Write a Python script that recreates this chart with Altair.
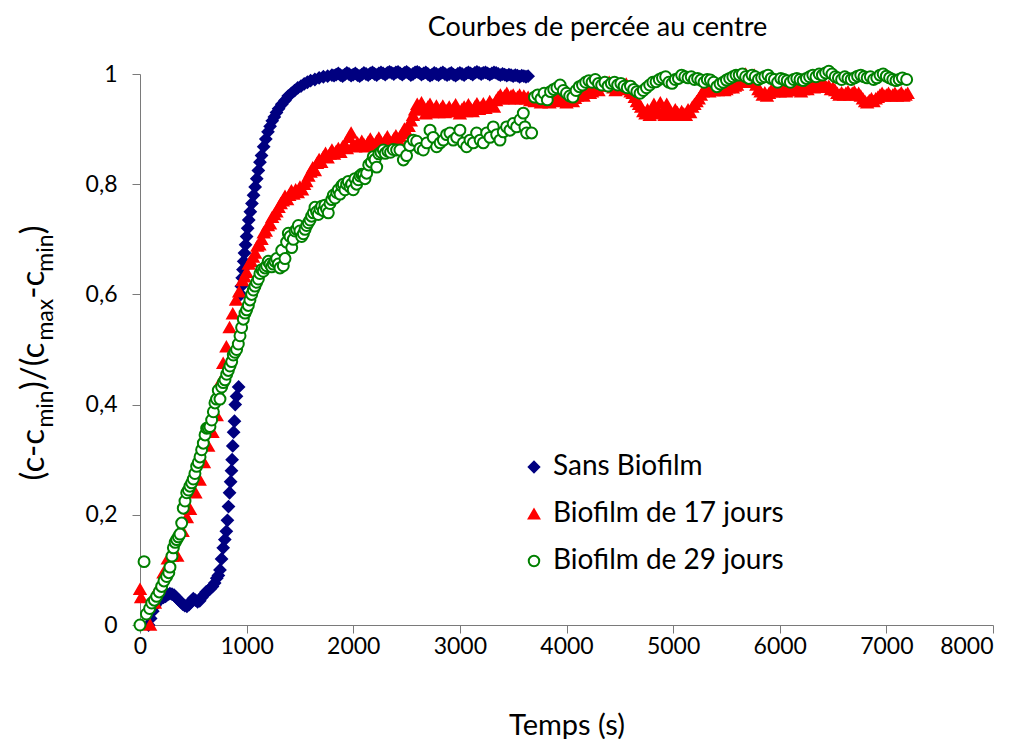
import altair as alt
import pandas as pd

series_names = ["Sans Biofilm", "Biofilm de 17 jours", "Biofilm de 29 jours"]
stroke_colors = ["#000080", "#FF0000", "#008000"]
fill_colors = ["#000080", "#FF0000", "#FFFFFF"]
shapes = ["diamond", "triangle-up", "circle"]
x_ticks = [0, 1000, 2000, 3000, 4000, 5000, 6000, 7000, 8000]
y_ticks = [0, 0.2, 0.4, 0.6, 0.8, 1.0]
chart_title = "Courbes de percée au centre"
x_title = "Temps (s)"
# y title "(c-c_min)/(c_max-c_min)" : pieces, 1 = subscript
y_title_parts = ["(c-c", "min", ")/(c", "max", "-c", "min", ")"]
y_title_sub = [0, 1, 0, 1, 0, 1, 0]

# ---- data: (temps [s], (c-cmin)/(cmax-cmin)) ----
sans_biofilm = [
    (80, 0.0), (100, 0.012), (120, 0.025), (140, 0.035), (160, 0.042), (180, 0.046), (200, 0.048),
    (220, 0.05), (240, 0.052), (260, 0.055), (280, 0.057), (300, 0.056), (320, 0.054), (340, 0.05),
    (360, 0.046), (380, 0.042), (400, 0.038), (420, 0.035), (440, 0.034), (460, 0.037), (480, 0.043),
    (500, 0.048), (520, 0.045), (540, 0.042), (560, 0.044), (580, 0.05), (600, 0.055), (620, 0.06),
    (640, 0.063), (660, 0.066), (680, 0.07), (700, 0.076), (720, 0.085), (735, 0.09), (750, 0.1),
    (765, 0.12), (780, 0.14), (795, 0.155), (810, 0.17), (820, 0.19), (830, 0.215), (840, 0.24),
    (850, 0.26), (858, 0.28), (864, 0.3), (870, 0.325), (878, 0.35), (886, 0.37), (893, 0.4),
    (905, 0.415), (925, 0.432),
    (945, 0.6), (950, 0.615), (958, 0.63), (965, 0.645), (972, 0.66), (980, 0.675), (990, 0.69),
    (1000, 0.705), (1010, 0.72), (1020, 0.735), (1035, 0.75), (1050, 0.765), (1065, 0.78),
    (1080, 0.795), (1095, 0.81), (1110, 0.825), (1125, 0.84), (1140, 0.852), (1160, 0.868),
    (1180, 0.882), (1200, 0.895), (1220, 0.905), (1240, 0.915), (1260, 0.922), (1280, 0.93),
    (1300, 0.937), (1330, 0.945), (1360, 0.952), (1390, 0.96), (1420, 0.965), (1450, 0.97),
    (1480, 0.975), (1510, 0.978), (1540, 0.982), (1570, 0.985), (1600, 0.988), (1640, 0.99),
    (1680, 0.993), (1720, 0.995), (1760, 0.996), (1800, 0.998),
]
# plateau of the blue series, one value every 20 s from 1820 s
sans_biofilm_plateau_start = 1820
sans_biofilm_plateau = [
    0.997, 0.999, 1.001, 0.998, 0.996, 0.999, 1.002, 1.0, 0.997, 0.999,      # 1820
    1.001, 0.998, 0.996, 0.999, 1.002, 1.0, 0.998, 1.001, 1.003, 1.0,        # 2020
    0.998, 1.001, 1.003, 1.001, 0.999, 1.002, 1.004, 1.002, 1.0, 1.003,      # 2220
    1.004, 1.001, 0.999, 1.002, 1.004, 1.001, 0.998, 1.0, 1.003, 1.004,      # 2420
    1.002, 0.999, 1.001, 1.003, 1.0, 0.997, 0.999, 1.002, 1.0, 0.998,        # 2620
    1.001, 1.003, 1.0, 0.998, 1.0, 1.002, 0.999, 0.997, 1.0, 1.002,          # 2820
    1.0, 0.998, 1.001, 1.003, 1.001, 0.999, 1.002, 1.004, 1.002, 1.0,        # 3020
    1.002, 1.003, 1.001, 0.999, 1.001, 1.003, 1.002, 1.0, 0.998, 1.0,        # 3220
    0.999, 0.997, 0.999, 0.998, 0.996, 0.998, 0.997, 0.995, 0.997, 0.996,    # 3420
    0.995, 0.996,                                                            # 3620
]

biofilm_17 = [
    (0, 0.065), (10, 0.05), (95, 0.0), (140, 0.04), (180, 0.07), (220, 0.095), (260, 0.12),
    (300, 0.125), (350, 0.125), (400, 0.17), (440, 0.195), (470, 0.21), (520, 0.24), (560, 0.263),
    (600, 0.295), (640, 0.325), (680, 0.35), (720, 0.38), (750, 0.44), (780, 0.475), (810, 0.505),
    (840, 0.54), (870, 0.565), (900, 0.59), (930, 0.605), (960, 0.625), (980, 0.632),
]
# one value every 20 s from 1000 s
biofilm_17_dense_start = 1000
biofilm_17_dense = [
    0.64,                                                                    # 1000
    0.655, 0.66, 0.668, 0.675, 0.688, 0.69, 0.70, 0.712, 0.715, 0.725,       # 1020
    0.728, 0.74, 0.745, 0.75, 0.758, 0.765, 0.77, 0.778, 0.772, 0.78,        # 1220
    0.788, 0.782, 0.79, 0.785, 0.795, 0.79, 0.80, 0.805, 0.815, 0.822,       # 1420
    0.83, 0.825, 0.838, 0.845, 0.84, 0.85, 0.856, 0.848, 0.855, 0.862,       # 1620
    0.855, 0.86, 0.865, 0.858, 0.868, 0.872, 0.865, 0.885, 0.893, 0.872,     # 1820
    0.868, 0.875, 0.87, 0.878, 0.872, 0.868, 0.876, 0.882, 0.875, 0.87,      # 2020
    0.878, 0.884, 0.876, 0.872, 0.88, 0.886, 0.878, 0.874, 0.882, 0.888,     # 2220
    0.88, 0.886, 0.892, 0.9, 0.895, 0.905, 0.915, 0.925, 0.935, 0.945,       # 2420
    0.94, 0.948, 0.935, 0.928, 0.94, 0.945, 0.93, 0.935, 0.942, 0.93,        # 2620
    0.936, 0.942, 0.93, 0.934, 0.94, 0.932, 0.938, 0.944, 0.932, 0.928,      # 2820
    0.936, 0.94, 0.932, 0.944, 0.938, 0.932, 0.94, 0.946, 0.936, 0.94,       # 3020
    0.946, 0.938, 0.942, 0.95, 0.944, 0.94, 0.952, 0.958, 0.962, 0.955,      # 3220
    0.96, 0.965, 0.955, 0.96, 0.962, 0.955, 0.958, 0.962, 0.955, 0.96,       # 3420
    0.955, 0.958, 0.952, 0.956, 0.95, 0.955, 0.952, 0.948, 0.955, 0.95,      # 3620
    0.954, 0.948, 0.955, 0.958, 0.952, 0.956, 0.95, 0.955, 0.952, 0.948,     # 3820
    0.952, 0.955, 0.95, 0.956, 0.96, 0.962, 0.965, 0.96, 0.966, 0.97,        # 4020
    0.965, 0.968, 0.972, 0.975, 0.97, 0.978, 0.982, 0.985, 0.978, 0.985,     # 4220
    0.98, 0.975, 0.97, 0.975, 0.98, 0.972, 0.978, 0.982, 0.975, 0.968,       # 4420
    0.965, 0.958, 0.95, 0.945, 0.94, 0.932, 0.928, 0.935, 0.925, 0.93,       # 4620
    0.945, 0.935, 0.928, 0.948, 0.932, 0.925, 0.945, 0.935, 0.928, 0.925,    # 4820
    0.935, 0.93, 0.925, 0.932, 0.928, 0.925, 0.935, 0.93, 0.94, 0.945,       # 5020
    0.95, 0.955, 0.962, 0.968, 0.97, 0.972, 0.968, 0.972, 0.97, 0.975,       # 5220
    0.97, 0.972, 0.975, 0.97, 0.972, 0.975, 0.978, 0.975, 0.978, 0.98,       # 5420
    0.985, 0.99, 0.995, 1.0, 0.99, 0.985, 0.995, 0.998, 0.98, 0.972,         # 5620
    0.968, 0.962, 0.966, 0.96, 0.965, 0.97, 0.968, 0.972, 0.97, 0.968,       # 5820
    0.97, 0.972, 0.968, 0.972, 0.975, 0.972, 0.97, 0.974, 0.97, 0.968,       # 6020
    0.972, 0.975, 0.972, 0.976, 0.978, 0.975, 0.98, 0.978, 0.982, 0.978,     # 6220
    0.98, 0.976, 0.978, 0.972, 0.975, 0.97, 0.965, 0.962, 0.966, 0.962,      # 6420
    0.965, 0.968, 0.962, 0.965, 0.968, 0.962, 0.965, 0.96, 0.955, 0.95,      # 6620
    0.948, 0.952, 0.955, 0.95, 0.955, 0.958, 0.962, 0.965, 0.96, 0.962,      # 6820
    0.965, 0.96, 0.962, 0.965, 0.96, 0.962, 0.966, 0.96, 0.962, 0.965,       # 7020
]

biofilm_29 = [
    (0, 0.0), (38, 0.115), (60, 0.02), (90, 0.03), (110, 0.04), (135, 0.045), (156, 0.052),
    (180, 0.06), (203, 0.07), (225, 0.08), (250, 0.088), (270, 0.095), (281, 0.105), (300, 0.125),
    (313, 0.14), (330, 0.15), (344, 0.155), (360, 0.16), (375, 0.165), (391, 0.185), (406, 0.212),
    (422, 0.225), (438, 0.24), (454, 0.245), (469, 0.252), (485, 0.258), (500, 0.265), (515, 0.275),
    (531, 0.288), (547, 0.295), (563, 0.305), (578, 0.318), (594, 0.33), (610, 0.345), (625, 0.357),
    (640, 0.358), (656, 0.36), (672, 0.372), (688, 0.387), (703, 0.403), (718, 0.41), (734, 0.426),
    (750, 0.41), (766, 0.432), (781, 0.44), (797, 0.445), (813, 0.455), (828, 0.462), (844, 0.47),
    (860, 0.478), (875, 0.49), (890, 0.495), (906, 0.5), (922, 0.51), (938, 0.525), (953, 0.54),
    (969, 0.555), (985, 0.566), (1000, 0.572), (1016, 0.58), (1031, 0.59), (1047, 0.6),
    (1063, 0.608), (1078, 0.615), (1094, 0.622), (1110, 0.628), (1125, 0.638), (1141, 0.645),
    (1156, 0.642), (1172, 0.648), (1188, 0.652), (1203, 0.66), (1219, 0.655), (1235, 0.65),
    (1250, 0.655), (1266, 0.66), (1282, 0.665), (1297, 0.655), (1313, 0.648), (1329, 0.68),
    (1344, 0.652), (1360, 0.665), (1375, 0.695), (1391, 0.711), (1407, 0.705), (1423, 0.685),
    (1438, 0.7), (1454, 0.715), (1470, 0.718), (1485, 0.725), (1500, 0.715), (1516, 0.705),
    (1532, 0.71), (1548, 0.718), (1563, 0.725), (1579, 0.73), (1595, 0.735), (1610, 0.742),
    (1626, 0.748), (1641, 0.758), (1657, 0.75), (1672, 0.745), (1688, 0.755), (1704, 0.76),
    (1720, 0.752), (1735, 0.762), (1750, 0.755), (1766, 0.748), (1782, 0.765), (1798, 0.772),
    (1813, 0.78), (1829, 0.775), (1845, 0.785), (1860, 0.79), (1876, 0.782), (1891, 0.797),
    (1907, 0.8), (1922, 0.79), (1938, 0.8), (1954, 0.805), (1970, 0.795), (1985, 0.8), (2000, 0.79),
    (2016, 0.81), (2032, 0.8), (2048, 0.808), (2063, 0.815), (2079, 0.818), (2095, 0.817),
    (2110, 0.81), (2126, 0.82), (2145, 0.835), (2170, 0.84), (2188, 0.85), (2205, 0.845),
    (2220, 0.831), (2240, 0.855), (2260, 0.858), (2282, 0.862), (2300, 0.856), (2325, 0.86),
    (2350, 0.858), (2375, 0.863), (2407, 0.862), (2438, 0.862), (2470, 0.844), (2500, 0.852),
    (2530, 0.87), (2563, 0.88), (2595, 0.878), (2625, 0.865), (2657, 0.862), (2690, 0.875),
    (2720, 0.898), (2750, 0.885), (2782, 0.868), (2815, 0.875), (2845, 0.88), (2875, 0.89),
    (2907, 0.893), (2938, 0.88), (2970, 0.885), (3000, 0.898), (3032, 0.875), (3063, 0.868),
    (3095, 0.88), (3126, 0.875), (3157, 0.893), (3190, 0.88), (3220, 0.875), (3251, 0.893),
    (3282, 0.885), (3313, 0.904), (3345, 0.89), (3376, 0.88), (3407, 0.895), (3438, 0.904),
    (3470, 0.898), (3500, 0.91), (3532, 0.904), (3564, 0.917), (3595, 0.929), (3610, 0.904),
    (3626, 0.893), (3673, 0.893),
    (3700, 0.958), (3730, 0.962), (3760, 0.955), (3790, 0.965), (3820, 0.953), (3850, 0.968),
    (3880, 0.972), (3910, 0.975), (3940, 0.98), (3970, 0.97), (4000, 0.965), (4030, 0.96),
    (4060, 0.958), (4090, 0.97), (4120, 0.977), (4150, 0.98), (4180, 0.985), (4210, 0.988),
    (4240, 0.985), (4270, 0.99), (4300, 0.983), (4330, 0.98), (4360, 0.985), (4390, 0.978),
    (4420, 0.983), (4450, 0.985), (4480, 0.98), (4510, 0.983), (4540, 0.978), (4570, 0.975),
    (4600, 0.978), (4630, 0.972), (4660, 0.968), (4690, 0.965), (4720, 0.97), (4750, 0.975),
    (4780, 0.98), (4810, 0.985), (4840, 0.986), (4870, 0.99), (4900, 0.993), (4930, 0.995),
    (4960, 0.985), (4990, 0.983), (5020, 0.99), (5050, 0.992), (5080, 0.998), (5110, 0.995),
    (5140, 0.993), (5170, 0.995), (5200, 0.99), (5230, 0.992), (5260, 0.989), (5290, 0.985),
    (5320, 0.99), (5350, 0.989), (5380, 0.985), (5410, 0.977), (5440, 0.982), (5470, 0.985),
    (5500, 0.989), (5530, 0.992), (5560, 0.995), (5590, 0.998), (5620, 0.998), (5650, 1.0),
    (5680, 0.995), (5710, 0.992), (5740, 0.998), (5770, 0.995), (5800, 0.99), (5830, 0.993),
    (5860, 0.995), (5890, 0.998), (5920, 0.992), (5950, 0.99), (5980, 0.985), (6010, 0.992),
    (6040, 0.99), (6070, 0.988), (6100, 0.985), (6130, 0.99), (6160, 0.992), (6190, 0.99),
    (6220, 0.988), (6250, 0.992), (6280, 0.995), (6310, 0.998), (6340, 0.995), (6370, 1.0),
    (6400, 0.998), (6430, 1.002), (6460, 1.005), (6490, 1.0), (6520, 0.995), (6550, 0.993),
    (6580, 0.99), (6610, 0.995), (6640, 0.992), (6670, 0.99), (6700, 0.993), (6730, 0.996),
    (6760, 0.998), (6790, 0.995), (6820, 0.993), (6850, 0.995), (6880, 0.99), (6910, 0.993),
    (6940, 0.998), (6970, 1.0), (7000, 0.996), (7030, 0.993), (7060, 0.99), (7090, 0.988),
    (7120, 0.99), (7150, 0.993), (7190, 0.99),
]

# ---- assemble table ----
def with_grid(pairs, start, values, step=20):
    out = list(pairs)
    for i, v in enumerate(values):
        out.append((start + step * i, v))
    return out

all_series = [
    with_grid(sans_biofilm, sans_biofilm_plateau_start, sans_biofilm_plateau),
    with_grid(biofilm_17, biofilm_17_dense_start, biofilm_17_dense),
    biofilm_29,
]
rows = []
for name, pts in zip(series_names, all_series):
    for t, v in pts:
        rows.append({"serie": name, "temps": t, "c": v})
df = pd.DataFrame(rows)

FONT = "Lato"
legend = alt.Legend(title=None)

points = alt.Chart(df).mark_point(
    size=120, strokeWidth=2, opacity=1, fillOpacity=1, strokeOpacity=1
).encode(
    x=alt.X("temps:Q", scale=alt.Scale(domain=[0, 8000], nice=False),
            axis=alt.Axis(values=x_ticks, format="d", title=x_title, labelFlush=False,
                          labelAlign=alt.condition("datum.value == 8000", alt.value("right"), alt.value("center")),
                          titleX=426.5, titleY=100, titleBaseline="middle", titleAlign="center",
                          titleFontSize=29)),
    y=alt.Y("c:Q", scale=alt.Scale(domain=[0, 1], nice=False),
            axis=alt.Axis(values=y_ticks, title=None,
                          labelExpr="datum.value == 0 ? '0' : (datum.value == 1 ? '1' : replace(format(datum.value, '.1f'), '.', ','))",
                          labelPadding=15)),
    stroke=alt.Stroke("serie:N", scale=alt.Scale(domain=series_names, range=stroke_colors), legend=legend),
    fill=alt.Fill("serie:N", scale=alt.Scale(domain=series_names, range=fill_colors), legend=legend),
    shape=alt.Shape("serie:N", scale=alt.Scale(domain=series_names, range=shapes), legend=legend),
)

# ---- y title built from pieces (normal + subscript) ----
MAIN, SUB = 33, 23
char_em = {"(": 0.32, ")": 0.32, "c": 0.46, "-": 0.36, "/": 0.40, "m": 0.84, "i": 0.24,
           "n": 0.55, "a": 0.50, "x": 0.48}
widths = [sum(char_em.get(ch, 0.5) for ch in p) * (SUB if s else MAIN)
          for p, s in zip(y_title_parts, y_title_sub)]
total = sum(widths)
center_y = 278
base_x = -96
texts = []
pos = center_y + total / 2
for p, s, w in zip(y_title_parts, y_title_sub, widths):
    texts.append(
        alt.Chart(pd.DataFrame({"part": [p]})).mark_text(
            font=FONT, fontSize=SUB if s else MAIN, angle=270, align="left",
            baseline="alphabetic", color="black"
        ).encode(text="part:N", x=alt.value(base_x + (9 if s else 0)), y=alt.value(pos))
    )
    pos -= w

chart = alt.layer(points, *texts).properties(
    width=853,
    height=551,
    title=alt.TitleParams(chart_title, font=FONT, fontSize=27, fontWeight="normal",
                          color="black", anchor="middle", dx=31, offset=20),
    autosize=alt.AutoSizeParams(type="none"),
    padding={"left": 132, "top": 66, "right": 20, "bottom": 114},
).configure_view(
    stroke=None
).configure_axis(
    grid=False,
    domainColor="#7a7a7a",
    domainWidth=1,
    tickColor="#7a7a7a",
    tickSize=8,
    labelFont=FONT,
    labelFontSize=23,
    labelColor="black",
    titleFont=FONT,
    titleFontSize=29,
    titleFontWeight="normal",
    titleColor="black",
).configure_axisX(
    labelPadding=2
).configure_legend(
    orient="none",
    legendX=380,
    legendY=379,
    labelFont=FONT,
    labelFontSize=28,
    labelColor="black",
    labelLimit=0,
    symbolSize=110,
    symbolStrokeWidth=2,
    labelOffset=5,
    rowPadding=19,
    padding=0,
)

chart.save("out.html", embed_options={"renderer": "svg", "actions": False})
